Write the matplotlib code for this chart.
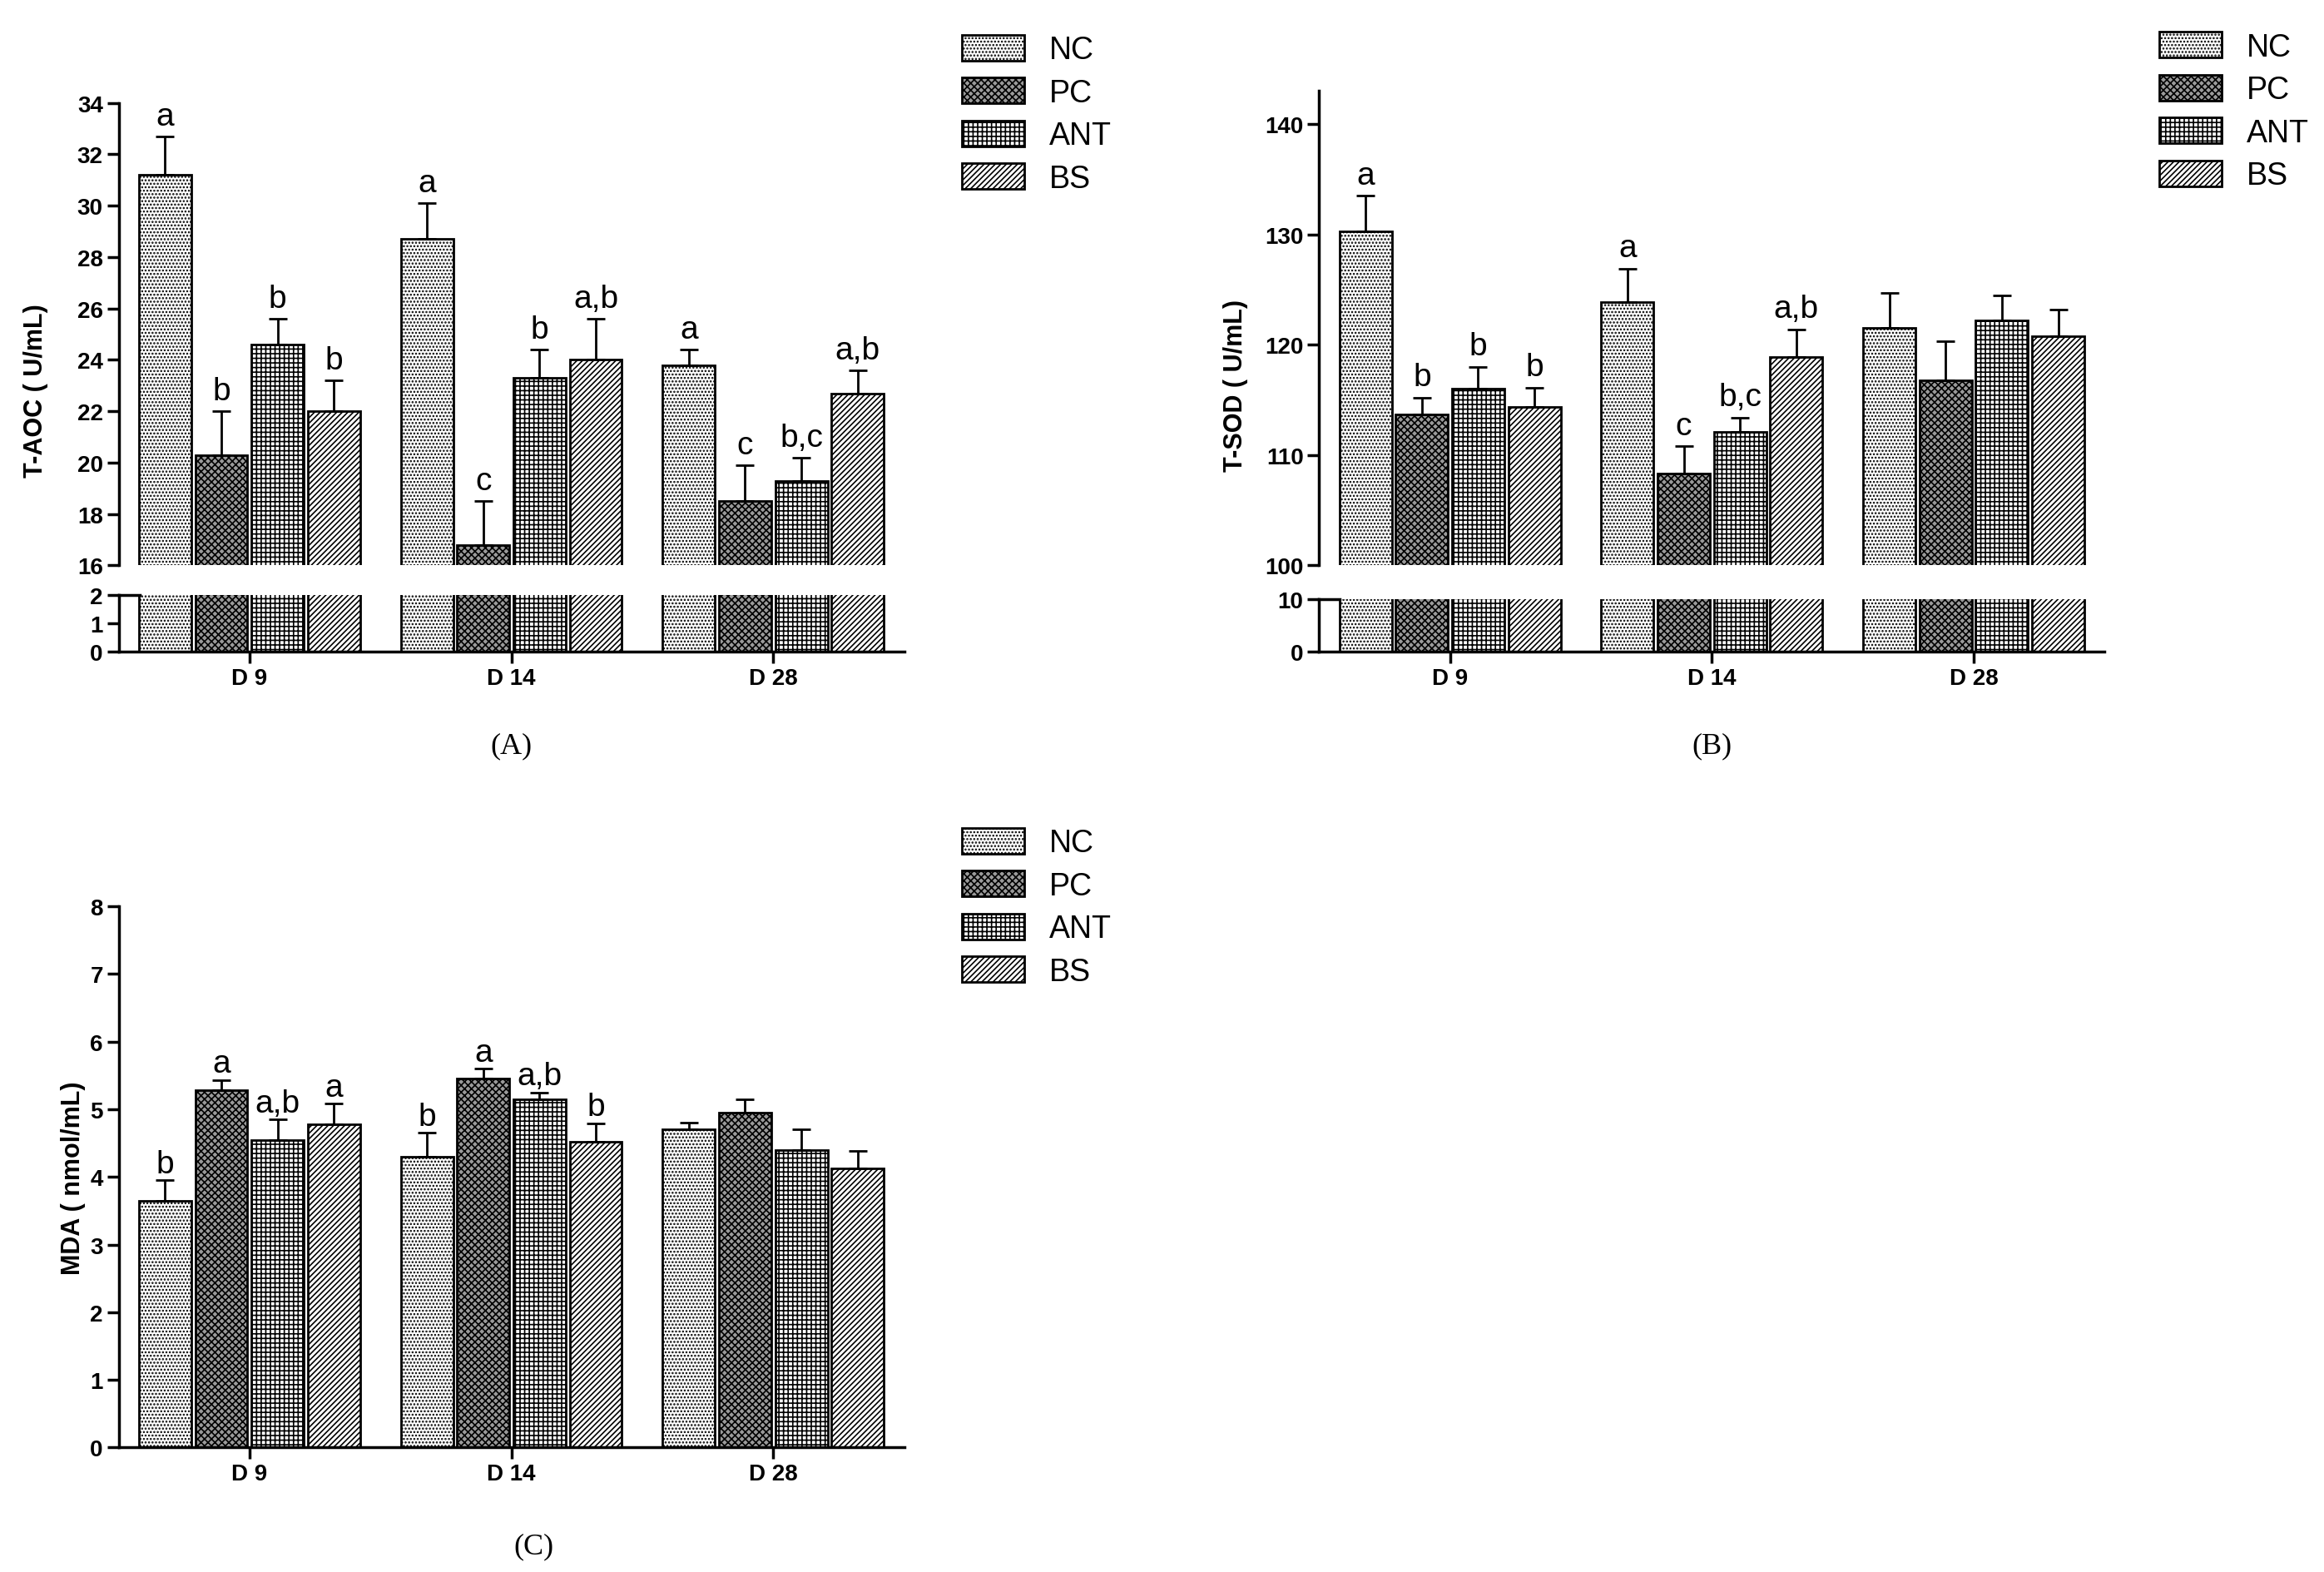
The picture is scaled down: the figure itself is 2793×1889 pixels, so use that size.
import numpy as np
import matplotlib
matplotlib.use("Agg")
import matplotlib.pyplot as plt
from matplotlib.patches import Patch

plt.rcParams['font.family'] = ['Liberation Sans', 'DejaVu Sans']
plt.rcParams['hatch.linewidth'] = 1.2

days = ["D 9", "D 14", "D 28"]
groups = ["NC", "PC", "ANT", "BS"]

# T-AOC (U/mL)
aoc_mean = {"NC": [31.2, 28.7, 23.8], "PC": [20.3, 16.8, 18.5],
            "ANT": [24.6, 23.3, 19.3], "BS": [22.0, 24.0, 22.7]}
aoc_err = {"NC": [1.5, 1.4, 0.6], "PC": [1.7, 1.7, 1.4],
           "ANT": [1.0, 1.1, 0.9], "BS": [1.2, 1.6, 0.9]}
aoc_let = {"NC": ["a", "a", "a"], "PC": ["b", "c", "c"],
           "ANT": ["b", "b", "b,c"], "BS": ["b", "a,b", "a,b"]}

# T-SOD (U/mL)
sod_mean = {"NC": [130.3, 123.9, 121.5], "PC": [113.7, 108.3, 116.8],
            "ANT": [116.0, 112.1, 122.2], "BS": [114.4, 118.9, 120.8]}
sod_err = {"NC": [3.2, 3.0, 3.2], "PC": [1.5, 2.5, 3.5],
           "ANT": [2.0, 1.3, 2.3], "BS": [1.7, 2.5, 2.4]}
sod_let = {"NC": ["a", "a", ""], "PC": ["b", "c", ""],
           "ANT": ["b", "b,c", ""], "BS": ["b", "a,b", ""]}

# MDA (nmol/mL)
mda_mean = {"NC": [3.65, 4.3, 4.7], "PC": [5.28, 5.45, 4.95],
            "ANT": [4.55, 5.15, 4.4], "BS": [4.78, 4.52, 4.13]}
mda_err = {"NC": [0.3, 0.35, 0.1], "PC": [0.15, 0.15, 0.2],
           "ANT": [0.3, 0.1, 0.3], "BS": [0.3, 0.27, 0.25]}
mda_let = {"NC": ["b", "b", ""], "PC": ["a", "a", ""],
           "ANT": ["a,b", "a,b", ""], "BS": ["a", "b", ""]}

styles = {"NC": dict(facecolor="white", hatch="...."),
          "PC": dict(facecolor="#9a9a9a", hatch="xxxx"),
          "ANT": dict(facecolor="white", hatch="+++"),
          "BS": dict(facecolor="white", hatch="/////")}

fig = plt.figure(figsize=(27.93, 18.9), dpi=100)
W, H = 1568, 1061

def rect(x0, x1, ytop, ybot):
    return [x0 / W, 1 - ybot / H, (x1 - x0) / W, (ybot - ytop) / H]

x = np.arange(3)
width = 0.2
offs = np.array([-1.5, -0.5, 0.5, 1.5]) * 0.215

def draw_bars(ax, mean, err, letters, pad):
    for i, g in enumerate(groups):
        xs = x + offs[i]
        ax.bar(xs, mean[g], width, edgecolor="black", linewidth=2, **styles[g])
        ax.errorbar(xs, mean[g], yerr=[[0] * 3, err[g]], fmt="none",
                    ecolor="black", elinewidth=2, capsize=8, capthick=2)
        if letters is not None:
            for xi, m, e, t in zip(xs, mean[g], err[g], letters[g]):
                if t:
                    ax.text(xi, m + e + pad, t, ha="center", va="bottom", fontsize=28)

def style(ax):
    ax.spines["top"].set_visible(False)
    ax.spines["right"].set_visible(False)
    for s in ax.spines.values():
        s.set_linewidth(2.5)
    ax.tick_params(width=2.5, length=10, labelsize=20)
    ax.set_xlim(-0.5, 2.5)

def broken_panel(up_rect, lo_rect, mean, err, letters, up_lim, up_ticks,
                 lo_lim, lo_ticks, ylabel, pad, label, label_y):
    axu = fig.add_axes(up_rect)
    axl = fig.add_axes(lo_rect)
    for ax in (axu, axl):
        draw_bars(ax, mean, err, letters if ax is axu else None, pad)
        style(ax)
    axu.set_ylim(*up_lim)
    axu.set_yticks(up_ticks)
    axu.spines["bottom"].set_visible(False)
    axu.set_xticks([])
    axl.set_ylim(*lo_lim)
    axl.set_yticks(lo_ticks)
    axl.set_xticks(x)
    axl.set_xticklabels(days, fontsize=20, fontweight="bold")
    for lab in axl.get_yticklabels() + axu.get_yticklabels():
        lab.set_fontweight("bold")
    axl.spines["top"].set_visible(True)
    axl.spines["top"].set_bounds(-0.5, -0.42)
    axu.set_ylabel(ylabel, fontsize=22, fontweight="bold")
    axu.yaxis.set_label_coords(-0.09, 0.38)
    fig.text(up_rect[0] + up_rect[2] / 2, label_y, label, ha="center",
             fontsize=26, family="Liberation Serif")
    return axu, axl

broken_panel(rect(80, 610, 70, 382), rect(80, 610, 402, 440),
             aoc_mean, aoc_err, aoc_let, (16, 34), np.arange(16, 35, 2),
             (0, 2), [0, 1, 2], "T-AOC ( U/mL)", 0.2, "(A)", 1 - 508 / H)

broken_panel(rect(890, 1420, 62, 382), rect(890, 1420, 405, 440),
             sod_mean, sod_err, sod_let, (100, 143), np.arange(100, 141, 10),
             (0, 10), [0, 10], "T-SOD ( U/mL)", 0.5, "(B)", 1 - 508 / H)

axc = fig.add_axes(rect(80, 610, 612, 977))
draw_bars(axc, mda_mean, mda_err, mda_let, 0.02)
style(axc)
axc.set_ylim(0, 8)
axc.set_yticks(np.arange(0, 9, 1))
axc.set_xticks(x)
axc.set_xticklabels(days, fontsize=20, fontweight="bold")
for lab in axc.get_yticklabels():
    lab.set_fontweight("bold")
axc.set_ylabel("MDA ( nmol/mL)", fontsize=22, fontweight="bold")
fig.text(360 / W, 1 - 1048 / H, "(C)", ha="center", fontsize=26,
         family="Liberation Serif")

handles = [Patch(edgecolor="black", linewidth=2, **styles[g]) for g in groups]
for lx, ly in [(630, 5), (1438, 3), (630, 540)]:
    fig.legend(handles, groups, loc="upper left", bbox_to_anchor=(lx / W, 1 - ly / H),
               frameon=False, fontsize=27, handlelength=2.0, handleheight=0.9,
               labelspacing=0.4)

fig.savefig("out.png", dpi=100)
